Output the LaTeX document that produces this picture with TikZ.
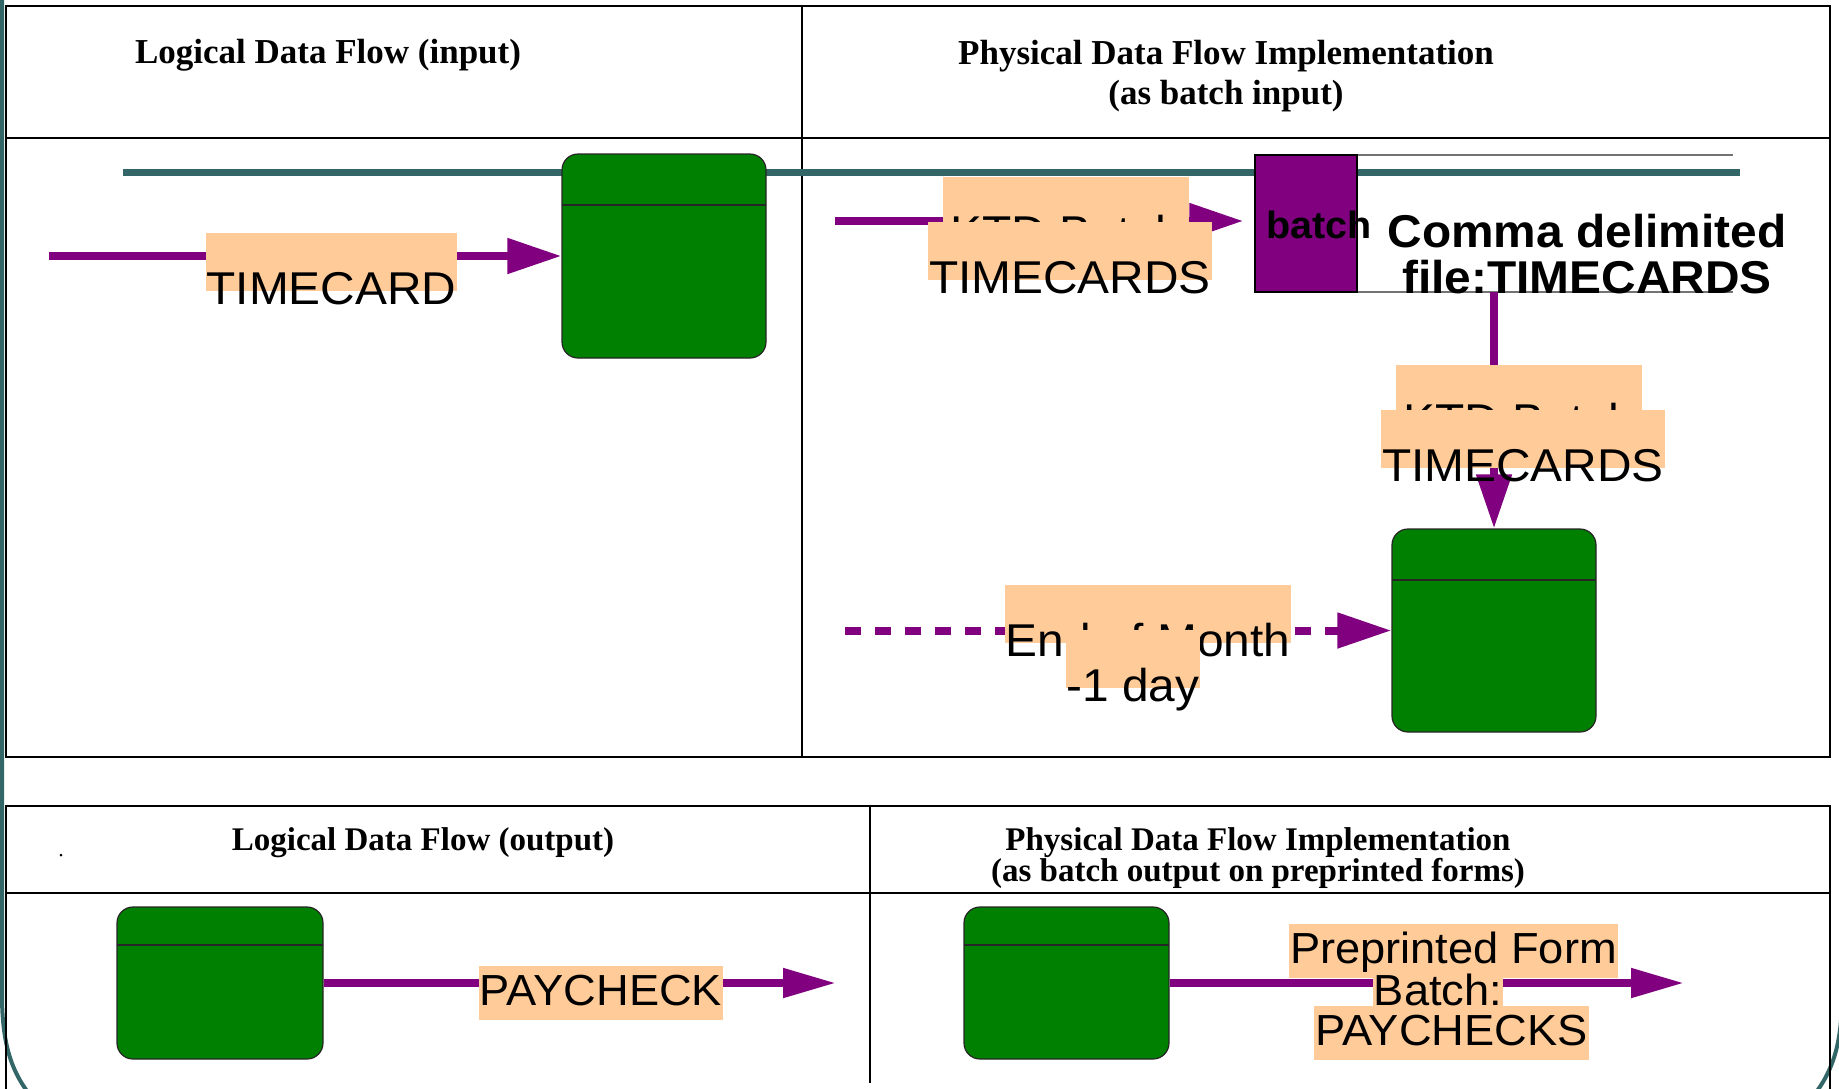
\documentclass[tikz,border=0pt]{standalone}
\usepackage{fontspec}
\setmainfont{Liberation Serif}
\newfontfamily\arial[FakeStretch=1.04]{Liberation Sans}
\usetikzlibrary{arrows.meta}
\definecolor{dfpurple}{HTML}{800080}
\definecolor{dfgreen}{HTML}{008000}
\definecolor{dfpeach}{HTML}{FFCC99}
\definecolor{dfteal}{HTML}{336666}
\newcommand\sunk[1]{\raisebox{-13pt}[58pt][0pt]{#1}}
\begin{document}
\begin{tikzpicture}[x=1pt, y=-1pt,
  frame/.style={draw=black, line width=2.5pt},
  rule/.style={draw=black, line width=2pt},
  rail/.style={draw=dfteal, line width=7pt},
  rim/.style={draw=dfteal, line width=4pt},
  head/.style={font=\bfseries\fontsize{35}{40}\selectfont, align=center, inner sep=0pt},
  headb/.style={font=\bfseries\fontsize{33}{31}\selectfont, align=center, inner sep=0pt},
  store/.style 2 args={draw=black!85, fill=dfgreen, rounded corners=16pt, line width=1.2pt, minimum width=#1, minimum height=#2, inner sep=0pt},
  storeline/.style={path picture={\draw[line width=2pt] ([yshift=-#1]path picture bounding box.north west) -- ([yshift=-#1]path picture bounding box.north east);}},
  fileline/.style={draw=black!55, line width=2pt},
  flow/.style={draw=dfpurple, line width=8pt, -{Triangle[length=54pt, width=34pt]}},
  outflow/.style={flow, -{Triangle[length=53pt, width=28pt]}},
  tag/.style={fill=dfpeach, font=\arial\fontsize{46}{50}\selectfont, inner xsep=1pt, inner ysep=0pt, anchor=north},
  tagb/.style={tag, font=\arial\fontsize{43.5}{48}\selectfont, text height=39pt, text depth=15pt}]
\useasboundingbox (0,0) rectangle (1839,1088);
\clip (0,0) rectangle (1839,1088);
\draw[rim] (2,-10) -- (2,995) .. controls (2,1045) and (12,1072) .. (30,1095);
\draw[rim] (1842,-10) -- (1842,995) .. controls (1842,1045) and (1832,1072) .. (1814,1095);
\draw[frame] (6,6) rectangle (1830,757);
\draw[rule] (6,138) -- (1830,138);
\draw[rule] (802,6) -- (802,757);
\draw[frame] (6,1100) -- (6,806) -- (1830,806) -- (1830,1100);
\draw[rule] (6,893) -- (1830,893);
\draw[rule] (870,806) -- (870,1083);
\node[head, anchor=base] (hin) at (328,63) {Logical Data Flow (input)};
\node[head, anchor=north] (hpin) at (1226,40) {Physical Data Flow Implementation\\(as batch input)};
\node[headb, anchor=base] (hout) at (423,850) {Logical Data Flow (output)};
\node[headb, anchor=north] (hpout) at (1258,827) {Physical Data Flow Implementation\\(as batch output on preprinted forms)};
\fill (61,855) circle (1.5pt);
\draw[rail] (123,172) -- (1740,172);
\node[store={204pt}{204pt}, storeline=51pt] (logstore) at (664,256) {};
\node[store={204pt}{203pt}, storeline=51pt] (physstore) at (1494,630.5) {};
\node[store={206pt}{152pt}, storeline=38pt] (logout) at (220,983) {};
\node[store={205pt}{152pt}, storeline=38pt] (physout) at (1066.5,983) {};
\node[minimum width=478pt, minimum height=137pt, inner sep=0pt] (batchfile) at (1494,223.5) {};
\draw[fileline] (batchfile.north west) -- (batchfile.north east);
\draw[fileline] (batchfile.south west) -- (batchfile.south east);
\node[draw=black, fill=dfpurple, line width=1.5pt, minimum width=102pt, minimum height=137pt, inner sep=0pt] (batch) at (1306,223.5) {};
\node[font=\arial\bfseries\fontsize{38}{40}\selectfont, anchor=base west, inner sep=0pt] (batchlbl) at (1266,238) {batch};
\node[font=\arial\bfseries\fontsize{46}{46}\selectfont, align=center, anchor=north, inner sep=0pt] (fname) at (1587,214) {Comma delimited\\file:TIMECARDS};
\coordinate (tcin) at (49,256);
\coordinate (kin) at (835,221);
\coordinate (eom) at (845,630.5);
\coordinate (payout) at (836,983);
\coordinate (formout) at (1684,983);
\draw[flow] (tcin) -- (logstore);
\draw[flow, shorten >=11pt] (kin) -- (kin -| batch.west);
\draw[flow] (batchfile) -- (physstore);
\draw[flow, dash pattern=on 16pt off 14pt] (eom) -- (physstore);
\draw[outflow] (logout) -- (payout);
\draw[outflow] (physout) -- (formout);
\node[tag] (tc) at (331.5,233) {\sunk{TIMECARD}};
\node[tag, minimum width=246pt] (k1) at (1066,177) {\sunk{KTD Batch}};
\node[tag] (k2) at (1070,222) {\sunk{TIMECARDS}};
\node[tag, minimum width=246pt] (k3) at (1519,365) {\sunk{KTD Batch}};
\node[tag] (k4) at (1523,410) {\sunk{TIMECARDS}};
\node[tag] (m1) at (1148,585) {\sunk{End of Month}};
\node[tag] (m2) at (1133,630) {\sunk{-1 day}};
\node[tagb] (pc) at (601,966) {PAYCHECK};
\node[tagb] (pf1) at (1453.5,924) {Preprinted Form};
\node[tagb] (pf2) at (1438,966) {Batch:};
\node[tagb] (pf3) at (1451.5,1006) {PAYCHECKS};
\end{tikzpicture}
\end{document}
